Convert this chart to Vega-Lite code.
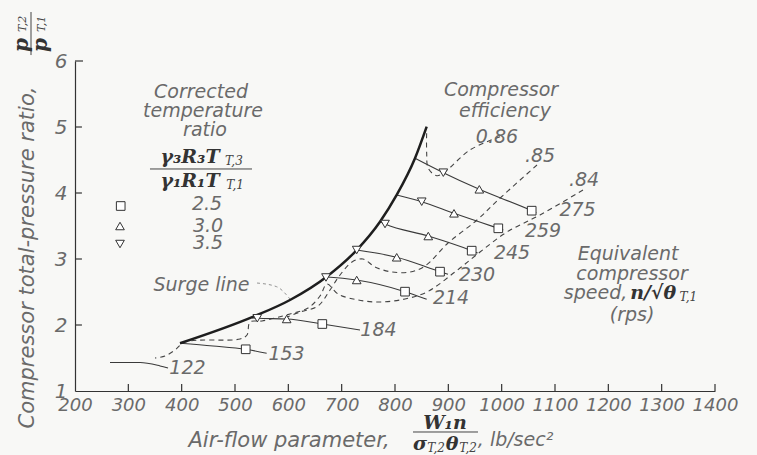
{
  "$schema": "https://vega.github.io/schema/vega-lite/v6.json",
  "width": 640,
  "height": 330,
  "autosize": "none",
  "padding": {"left": 75, "top": 61, "right": 42, "bottom": 64},
  "background": "#f8f8f6",
  "config": {"view": {"stroke": null}},
  "datasets": {
    "surge": [
      {"i": 1, "x": 396.9, "y": 1.723}, {"i": 2, "x": 534.3, "y": 2.126}, {"i": 3, "x": 603.1, "y": 2.379},
      {"i": 4, "x": 671.9, "y": 2.732}, {"i": 5, "x": 728.2, "y": 3.136}, {"i": 6, "x": 771.9, "y": 3.565},
      {"i": 7, "x": 803.2, "y": 3.97}, {"i": 8, "x": 837.5, "y": 4.526}, {"i": 9, "x": 859.4, "y": 5.005}
    ],
    "speeds": [
      {"speed": "122", "i": 1, "x": 265.6, "y": 1.432}, {"speed": "122", "i": 2, "x": 321.9, "y": 1.432}, {"speed": "122", "i": 3, "x": 359.4, "y": 1.38}, {"speed": "122", "i": 4, "x": 374.4, "y": 1.348},
      {"speed": "153", "i": 1, "x": 396.9, "y": 1.723}, {"speed": "153", "i": 2, "x": 458.8, "y": 1.682}, {"speed": "153", "i": 3, "x": 520.1, "y": 1.632}, {"speed": "153", "i": 4, "x": 559.4, "y": 1.571},
      {"speed": "184", "i": 1, "x": 531.9, "y": 2.106}, {"speed": "184", "i": 2, "x": 541.8, "y": 2.102}, {"speed": "184", "i": 3, "x": 596.9, "y": 2.091}, {"speed": "184", "i": 4, "x": 663.7, "y": 2.015}, {"speed": "184", "i": 5, "x": 734.4, "y": 1.924},
      {"speed": "214", "i": 1, "x": 665.6, "y": 2.732}, {"speed": "214", "i": 2, "x": 728.2, "y": 2.682}, {"speed": "214", "i": 3, "x": 818.8, "y": 2.505}, {"speed": "214", "i": 4, "x": 859.4, "y": 2.389},
      {"speed": "230", "i": 1, "x": 728.2, "y": 3.136}, {"speed": "230", "i": 2, "x": 803.2, "y": 3.026}, {"speed": "230", "i": 3, "x": 884.4, "y": 2.808}, {"speed": "230", "i": 4, "x": 899.4, "y": 2.77},
      {"speed": "245", "i": 1, "x": 771.9, "y": 3.565}, {"speed": "245", "i": 2, "x": 781.3, "y": 3.53}, {"speed": "245", "i": 3, "x": 862.4, "y": 3.348}, {"speed": "245", "i": 4, "x": 943.8, "y": 3.126}, {"speed": "245", "i": 5, "x": 955, "y": 3.09},
      {"speed": "259", "i": 1, "x": 803.2, "y": 3.97}, {"speed": "259", "i": 2, "x": 850.1, "y": 3.868}, {"speed": "259", "i": 3, "x": 910.6, "y": 3.692}, {"speed": "259", "i": 4, "x": 993.7, "y": 3.465}, {"speed": "259", "i": 5, "x": 1003, "y": 3.44},
      {"speed": "275", "i": 1, "x": 837.5, "y": 4.526}, {"speed": "275", "i": 2, "x": 890.6, "y": 4.308}, {"speed": "275", "i": 3, "x": 958.1, "y": 4.056}, {"speed": "275", "i": 4, "x": 1056.3, "y": 3.732}, {"speed": "275", "i": 5, "x": 1065, "y": 3.7}
    ],
    "eff": [
      {"eff": "0.86", "i": 1, "x": 996.9, "y": 4.853}, {"eff": "0.86", "i": 2, "x": 940.6, "y": 4.652}, {"eff": "0.86", "i": 3, "x": 893.8, "y": 4.323}, {"eff": "0.86", "i": 4, "x": 878.2, "y": 4.262}, {"eff": "0.86", "i": 5, "x": 862.4, "y": 4.374}, {"eff": "0.86", "i": 6, "x": 859.4, "y": 4.602}, {"eff": "0.86", "i": 7, "x": 859.4, "y": 4.955},
      {"eff": "0.85", "i": 1, "x": 1066.25, "y": 4.424}, {"eff": "0.85", "i": 2, "x": 993.1, "y": 3.894}, {"eff": "0.85", "i": 3, "x": 953.75, "y": 3.591}, {"eff": "0.85", "i": 4, "x": 899.4, "y": 3.242}, {"eff": "0.85", "i": 5, "x": 856.25, "y": 2.894}, {"eff": "0.85", "i": 6, "x": 828.1, "y": 2.803}, {"eff": "0.85", "i": 7, "x": 794.4, "y": 2.803}, {"eff": "0.85", "i": 8, "x": 762.5, "y": 2.879}, {"eff": "0.85", "i": 9, "x": 740, "y": 3.0}, {"eff": "0.85", "i": 10, "x": 719.4, "y": 2.955}, {"eff": "0.85", "i": 11, "x": 696.9, "y": 2.758}, {"eff": "0.85", "i": 12, "x": 678.1, "y": 2.53}, {"eff": "0.85", "i": 13, "x": 655.6, "y": 2.288}, {"eff": "0.85", "i": 14, "x": 621.9, "y": 2.197}, {"eff": "0.85", "i": 15, "x": 593.75, "y": 2.106},
      {"eff": "0.84", "i": 1, "x": 1152.5, "y": 4.045}, {"eff": "0.84", "i": 2, "x": 1071.9, "y": 3.667}, {"eff": "0.84", "i": 3, "x": 1010, "y": 3.409}, {"eff": "0.84", "i": 4, "x": 959.4, "y": 3.106}, {"eff": "0.84", "i": 5, "x": 912.5, "y": 2.803}, {"eff": "0.84", "i": 6, "x": 860, "y": 2.5}, {"eff": "0.84", "i": 7, "x": 818.75, "y": 2.394}, {"eff": "0.84", "i": 8, "x": 771.9, "y": 2.348}, {"eff": "0.84", "i": 9, "x": 730.6, "y": 2.379}, {"eff": "0.84", "i": 10, "x": 693.1, "y": 2.47}, {"eff": "0.84", "i": 11, "x": 672.5, "y": 2.621}, {"eff": "0.84", "i": 12, "x": 659.4, "y": 2.439}, {"eff": "0.84", "i": 13, "x": 636.9, "y": 2.258}, {"eff": "0.84", "i": 14, "x": 603.1, "y": 2.167}, {"eff": "0.84", "i": 15, "x": 550.6, "y": 2.061}, {"eff": "0.84", "i": 16, "x": 528.1, "y": 2.045}, {"eff": "0.84", "i": 17, "x": 522.5, "y": 1.848}, {"eff": "0.84", "i": 18, "x": 509.4, "y": 1.788}, {"eff": "0.84", "i": 19, "x": 406.25, "y": 1.742}, {"eff": "0.84", "i": 20, "x": 387.5, "y": 1.621}, {"eff": "0.84", "i": 21, "x": 368.75, "y": 1.53}, {"eff": "0.84", "i": 22, "x": 350, "y": 1.5}
    ],
    "leader": [
      {"i": 1, "x": 541.25, "y": 2.636}, {"i": 2, "x": 578.1, "y": 2.58}, {"i": 3, "x": 603.1, "y": 2.394}
    ],
    "hrules": [
      {"x": 340.6, "x2": 531.9, "y": 4.364},
      {"x": 833.75, "x2": 955.6, "y": 0.379}
    ],
    "vrules": [
      {"x": 117.5, "y": 6.742, "y2": 6.09}
    ],
    "xticks": [
      {"x": 300, "y": 1, "y2": 1.106}, {"x": 400, "y": 1, "y2": 1.106}, {"x": 500, "y": 1, "y2": 1.106}, {"x": 600, "y": 1, "y2": 1.106},
      {"x": 700, "y": 1, "y2": 1.106}, {"x": 800, "y": 1, "y2": 1.106}, {"x": 900, "y": 1, "y2": 1.106}, {"x": 1000, "y": 1, "y2": 1.106},
      {"x": 1100, "y": 1, "y2": 1.106}, {"x": 1200, "y": 1, "y2": 1.106}, {"x": 1300, "y": 1, "y2": 1.106}, {"x": 1400, "y": 1, "y2": 1.106}
    ],
    "yticks": [
      {"x": 200, "x2": 213, "y": 2}, {"x": 200, "x2": 213, "y": 3}, {"x": 200, "x2": 213, "y": 4},
      {"x": 200, "x2": 213, "y": 5}, {"x": 200, "x2": 215, "y": 6}
    ],
    "markers": [
      {"T": "2.5", "x": 520.1, "y": 1.632}, {"T": "2.5", "x": 663.7, "y": 2.015}, {"T": "2.5", "x": 818.8, "y": 2.505}, {"T": "2.5", "x": 884.4, "y": 2.808}, {"T": "2.5", "x": 943.8, "y": 3.126}, {"T": "2.5", "x": 993.7, "y": 3.465}, {"T": "2.5", "x": 1056.3, "y": 3.732},
      {"T": "3.0", "x": 596.9, "y": 2.091}, {"T": "3.0", "x": 728.2, "y": 2.682}, {"T": "3.0", "x": 803.2, "y": 3.026}, {"T": "3.0", "x": 862.4, "y": 3.348}, {"T": "3.0", "x": 910.6, "y": 3.692}, {"T": "3.0", "x": 958.1, "y": 4.056},
      {"T": "3.5", "x": 541.8, "y": 2.102}, {"T": "3.5", "x": 670.6, "y": 2.72}, {"T": "3.5", "x": 728.2, "y": 3.136}, {"T": "3.5", "x": 781.3, "y": 3.53}, {"T": "3.5", "x": 850.1, "y": 3.868}, {"T": "3.5", "x": 890.6, "y": 4.308},
      {"T": "2.5", "x": 285.7, "y": 3.803}, {"T": "3.0", "x": 284.4, "y": 3.5}, {"T": "3.5", "x": 284.4, "y": 3.227}
    ],
    "textsans": [
      {"t": "Corrected", "x": 436.3, "y": 5.53}, {"t": "temperature", "x": 440, "y": 5.242}, {"t": "ratio", "x": 443.8, "y": 4.955},
      {"t": "2.5", "x": 447.5, "y": 3.833}, {"t": "3.0", "x": 449.4, "y": 3.5}, {"t": "3.5", "x": 449.4, "y": 3.242},
      {"t": "Surge line", "x": 437.2, "y": 2.606},
      {"t": "Compressor", "x": 998.8, "y": 5.56}, {"t": "efficiency", "x": 1006.3, "y": 5.242},
      {"t": "0.86", "x": 991.3, "y": 4.848}, {"t": ".85", "x": 1071.9, "y": 4.561}, {"t": ".84", "x": 1154.4, "y": 4.197},
      {"t": "275", "x": 1142.2, "y": 3.735}, {"t": "259", "x": 1077.5, "y": 3.417}, {"t": "245", "x": 1019.4, "y": 3.098},
      {"t": "230", "x": 953.75, "y": 2.765}, {"t": "214", "x": 905, "y": 2.402}, {"t": "184", "x": 769, "y": 1.917},
      {"t": "153", "x": 596.6, "y": 1.568}, {"t": "122", "x": 410.9, "y": 1.341},
      {"t": "Equivalent", "x": 1236.9, "y": 3.076}, {"t": "compressor", "x": 1244.4, "y": 2.773},
      {"t": "speed,", "x": 1176, "y": 2.485}, {"t": "(rps)", "x": 1244.4, "y": 2.152},
      {"t": ", lb/sec²", "x": 1026, "y": 0.258}
    ],
    "textmath": [
      {"t": "γ₃R₃T", "x": 415.6, "y": 4.545}, {"t": "γ₁R₁T", "x": 415.6, "y": 4.182},
      {"t": "n/√θ", "x": 1284, "y": 2.485}, {"t": "W₁n", "x": 893.75, "y": 0.515},
      {"t": "σ", "x": 846.9, "y": 0.197}, {"t": "θ", "x": 906.9, "y": 0.197}
    ],
    "textsub": [
      {"t": "T,3", "x": 498, "y": 4.485}, {"t": "T,1", "x": 500, "y": 4.121},
      {"t": "T,1", "x": 1350, "y": 2.424}, {"t": "T,2", "x": 876.9, "y": 0.136}, {"t": "T,2", "x": 936.9, "y": 0.136}
    ],
    "rotmath": [
      {"t": "p", "x": 100.6, "y": 6.242}, {"t": "p", "x": 136.25, "y": 6.242}
    ],
    "rotsub": [
      {"t": "T,2", "x": 102.5, "y": 6.561}, {"t": "T,1", "x": 138, "y": 6.561}
    ]
  },
  "encoding": {
    "x": {
      "field": "x", "type": "quantitative",
      "scale": {"domain": [200, 1400], "nice": false, "zero": false},
      "axis": {
        "values": [200, 300, 400, 500, 600, 700, 800, 900, 1000, 1100, 1200, 1300, 1400],
        "format": "d",
        "grid": false, "ticks": false, "labelPadding": 5, "labelOverlap": false, "labelFlush": false,
        "labelFont": "DejaVu Sans", "labelFontStyle": "italic", "labelFontWeight": 200, "labelFontSize": 18, "labelColor": "#6a6a6a",
        "domainColor": "#333", "domainWidth": 1.2,
        "title": "Air-flow parameter,", "titleFont": "DejaVu Sans", "titleFontStyle": "italic", "titleFontWeight": 200,
        "titleFontSize": 21, "titleColor": "#6a6a6a", "titleX": 113, "titleY": 49, "titleAlign": "left", "titleBaseline": "middle"
      }
    },
    "y": {
      "field": "y", "type": "quantitative",
      "scale": {"domain": [1, 6], "nice": false, "zero": false},
      "axis": {
        "values": [1, 2, 3, 4, 5, 6],
        "grid": false, "ticks": false, "labelPadding": 8, "labelOverlap": false, "labelFlush": false,
        "labelFont": "DejaVu Sans", "labelFontStyle": "italic", "labelFontWeight": 200, "labelFontSize": 20, "labelColor": "#6a6a6a",
        "domainColor": "#333", "domainWidth": 1.2,
        "title": "Compressor total-pressure ratio,", "titleFont": "DejaVu Sans", "titleFontStyle": "italic", "titleFontWeight": 200,
        "titleFontSize": 21, "titleColor": "#6a6a6a", "titleX": -48, "titleY": 196, "titleAlign": "center", "titleBaseline": "middle", "titleAngle": 270
      }
    }
  },
  "layer": [
    {"data": {"name": "xticks"}, "mark": {"type": "rule", "color": "#333", "strokeWidth": 1.2},
     "encoding": {"y2": {"field": "y2"}}},
    {"data": {"name": "yticks"}, "mark": {"type": "rule", "color": "#333", "strokeWidth": 1.2},
     "encoding": {"x2": {"field": "x2"}}},
    {"data": {"name": "eff"}, "mark": {"type": "line", "color": "#444", "strokeWidth": 1.1, "strokeDash": [5, 4], "interpolate": "catmull-rom"},
     "encoding": {"detail": {"field": "eff"}, "order": {"field": "i"}}},
    {"data": {"name": "leader"}, "mark": {"type": "line", "color": "#888", "strokeWidth": 0.9, "strokeDash": [3, 3], "interpolate": "monotone"},
     "encoding": {"order": {"field": "i"}}},
    {"data": {"name": "speeds"}, "mark": {"type": "line", "color": "#3a3a3a", "strokeWidth": 1.1, "interpolate": "monotone"},
     "encoding": {"detail": {"field": "speed"}, "order": {"field": "i"}}},
    {"data": {"name": "surge"}, "mark": {"type": "line", "color": "#1e1e1e", "strokeWidth": 2.5, "interpolate": "monotone"},
     "encoding": {"order": {"field": "i"}}},
    {"data": {"name": "hrules"}, "mark": {"type": "rule", "color": "#444", "strokeWidth": 1},
     "encoding": {"x2": {"field": "x2"}}},
    {"data": {"name": "vrules"}, "mark": {"type": "rule", "color": "#444", "strokeWidth": 1},
     "encoding": {"y2": {"field": "y2"}}},
    {"data": {"name": "markers"}, "mark": {"type": "point", "filled": true, "fill": "#ffffff", "stroke": "#333", "strokeWidth": 1, "size": 75, "opacity": 1},
     "encoding": {"shape": {"field": "T", "type": "nominal", "scale": {"domain": ["2.5", "3.0", "3.5"], "range": ["square", "triangle-up", "triangle-down"]}, "legend": null}}},
    {"data": {"name": "textsans"}, "mark": {"type": "text", "font": "DejaVu Sans", "fontStyle": "italic", "fontWeight": 200, "fontSize": 19, "color": "#6a6a6a", "align": "center", "baseline": "middle"},
     "encoding": {"text": {"field": "t"}}},
    {"data": {"name": "textmath"}, "mark": {"type": "text", "font": "DejaVu Serif", "fontStyle": "italic", "fontWeight": "bold", "fontSize": 19, "color": "#333", "align": "center", "baseline": "middle"},
     "encoding": {"text": {"field": "t"}}},
    {"data": {"name": "textsub"}, "mark": {"type": "text", "font": "DejaVu Serif", "fontStyle": "italic", "fontSize": 12, "color": "#444", "align": "center", "baseline": "middle"},
     "encoding": {"text": {"field": "t"}}},
    {"data": {"name": "rotmath"}, "mark": {"type": "text", "font": "DejaVu Serif", "fontStyle": "italic", "fontWeight": "bold", "fontSize": 20, "color": "#333", "align": "center", "baseline": "middle", "angle": 270},
     "encoding": {"text": {"field": "t"}}},
    {"data": {"name": "rotsub"}, "mark": {"type": "text", "font": "DejaVu Serif", "fontStyle": "italic", "fontSize": 11, "color": "#444", "align": "center", "baseline": "middle", "angle": 270},
     "encoding": {"text": {"field": "t"}}}
  ]
}
